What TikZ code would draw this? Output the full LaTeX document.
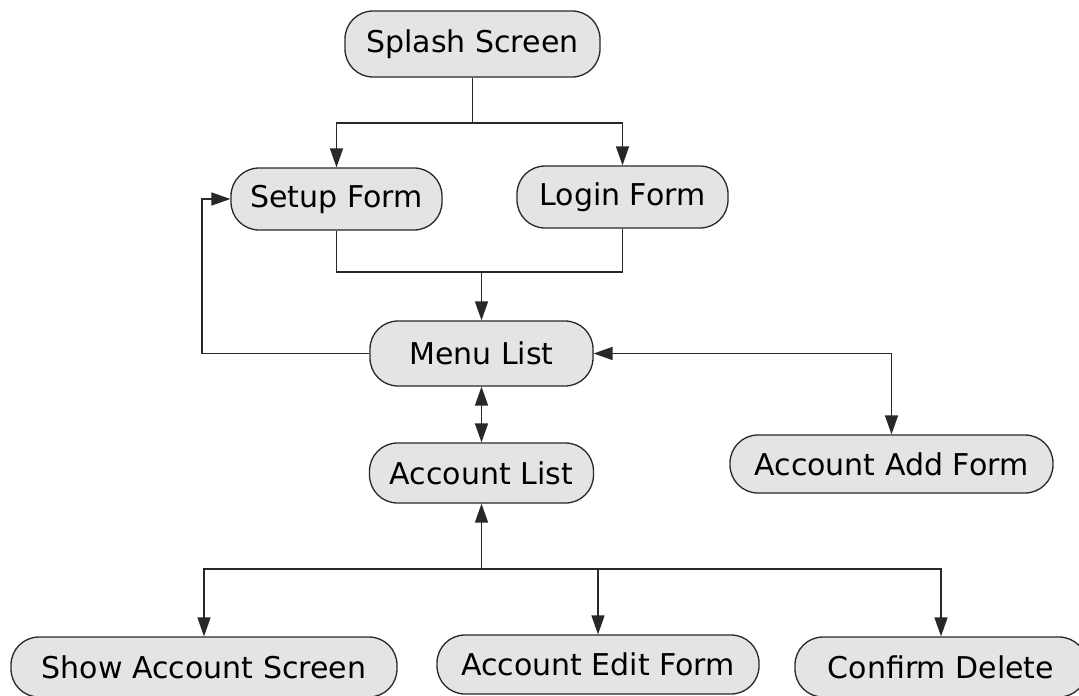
\documentclass[tikz,border=0pt]{standalone}
\usepackage{fontspec}
\setmainfont{DejaVu Sans}
\usetikzlibrary{arrows.meta}
\definecolor{boxfill}{RGB}{228,228,228}
\definecolor{linec}{RGB}{40,40,40}
\begin{document}
\begin{tikzpicture}[x=1pt,y=-1pt,
  box/.style={draw=linec, line width=1.3pt, fill=boxfill, rounded corners=28pt, inner sep=0pt, font=\fontsize{30}{36}\selectfont, text=black},
  conn/.style={draw=linec, line width=1.5pt},
  arr/.style={conn, -{Triangle[length=19pt,width=13pt]}},
  darr/.style={conn, {Triangle[length=19pt,width=13pt]}-{Triangle[length=19pt,width=13pt]}}]
\useasboundingbox (0,0) rectangle (1079,696);
\clip (0,0) rectangle (1079,696);
\fill[white] (0,0) rectangle (1079,696);
% nodes
\node[box, minimum width=255pt, minimum height=66pt] (splash) at (472.5,44) {Splash Screen};
\node[box, minimum width=211pt, minimum height=62pt] (setup) at (336.5,199) {Setup Form};
\node[box, minimum width=211pt, minimum height=62pt] (login) at (622.5,197) {Login Form};
\node[box, minimum width=223pt, minimum height=65pt] (menu) at (481.5,353.5) {Menu List};
\node[box, minimum width=224pt, minimum height=60pt] (acclist) at (481.5,473) {Account List};
\node[box, minimum width=323pt, minimum height=58pt] (addform) at (891.5,464) {Account Add Form};
\node[box, minimum width=386pt, minimum height=60pt] (show) at (204,667) {Show Account Screen};
\node[box, minimum width=322pt, minimum height=59pt] (edit) at (598,664.5) {Account Edit Form};
\node[box, minimum width=292pt, minimum height=60pt] (confirm) at (941,667) {Confirm Delete};
% connectors
\coordinate (j1) at (472.5,123);
\draw[conn] (splash.south) -- (j1);
\draw[arr] (j1) -| (setup.north);
\draw[arr] (j1) -| (login.north);
\coordinate (j2) at (481.5,272);
\draw[conn] (setup.south) |- (j2);
\draw[conn] (login.south) |- (j2);
\draw[arr] (j2) -- (menu.north);
\coordinate (c1) at (202,353.5);
\draw[arr] (menu.west) -- (c1) |- (setup.west);
\coordinate (c2) at (891.5,353.5);
\draw[darr] (menu.east) -- (c2) -- (addform.north);
\draw[darr] (menu.south) -- (acclist.north);
\coordinate (j3) at (481.5,569);
\draw[arr] (j3) -- (acclist.south);
\draw[arr] (j3) -| (show.north);
\draw[arr] (j3) -| (edit.north);
\draw[arr] (j3) -| (confirm.north);
\end{tikzpicture}
\end{document}
